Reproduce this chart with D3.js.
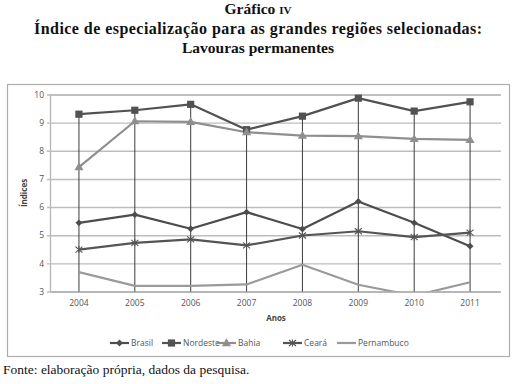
<!DOCTYPE html>
<html>
<head>
<meta charset="utf-8">
<script src="https://cdn.jsdelivr.net/npm/d3@7"></script>
<style>
  body { margin: 0; background: #fff; }
  svg { display: block; }
</style>
</head>
<body>
<div id="chart"></div>
<script>
// data
let years = ["2004", "2005", "2006", "2007", "2008", "2009", "2010", "2011"];
let brasil     = [5.44, 5.73, 5.23, 5.82, 5.22, 6.20, 5.44, 4.61];
let nordeste   = [9.30, 9.44, 9.65, 8.75, 9.23, 9.87, 9.41, 9.74];
let bahia      = [7.42, 9.05, 9.03, 8.66, 8.54, 8.52, 8.42, 8.39];
let ceara      = [4.49, 4.73, 4.85, 4.64, 4.99, 5.14, 4.93, 5.09];
let pernambuco = [3.69, 3.20, 3.20, 3.25, 3.95, 3.24, 2.85, 3.33];
let yTicks = [3, 4, 5, 6, 7, 8, 9, 10];

let series = [
    {name: "Brasil", values: brasil, color: "#4d4d4d", marker: "diamond"},
    {name: "Nordeste", values: nordeste, color: "#525252", marker: "square"},
    {name: "Bahia", values: bahia, color: "#8f8f8f", marker: "triangle"},
    {name: "Ceará", values: ceara, color: "#555555", marker: "star"},
    {name: "Pernambuco", values: pernambuco, color: "#9a9a9a", marker: "none"}
];

let svg = d3.select("#chart")
    .append("svg")
    .attr("width", 516)
    .attr("height", 384);

// titles
let serif = "'Liberation Serif', 'DejaVu Serif', serif";
let t1 = svg.append("text")
    .attr("x", 258).attr("y", 14)
    .attr("text-anchor", "middle")
    .style("font-family", serif).style("font-weight", "bold").style("font-size", "15.5px")
    .attr("fill", "#111");
t1.append("tspan").text("Gráfico ");
t1.append("tspan").text("IV").style("font-size", "11px");

svg.append("text")
    .attr("x", 258).attr("y", 34)
    .attr("text-anchor", "middle")
    .attr("textLength", 448)
    .attr("lengthAdjust", "spacing")
    .style("font-family", serif).style("font-weight", "bold").style("font-size", "16px")
    .attr("fill", "#111")
    .text("Índice de especialização para as grandes regiões selecionadas:");

svg.append("text")
    .attr("x", 258).attr("y", 53)
    .attr("text-anchor", "middle")
    .style("font-family", serif).style("font-weight", "bold").style("font-size", "15.5px")
    .attr("fill", "#111")
    .text("Lavouras permanentes");

svg.append("text")
    .attr("x", 3).attr("y", 374)
    .style("font-family", serif).style("font-size", "13.5px")
    .attr("fill", "#111")
    .text("Fonte: elaboração própria, dados da pesquisa.");

// chart frame
svg.append("rect")
    .attr("x", 7.5).attr("y", 84.5)
    .attr("width", 502).attr("height", 272)
    .attr("fill", "#fff")
    .attr("stroke", "#adadad")
    .attr("stroke-width", 1.2);

let sans = "'Open Sans', 'Liberation Sans', sans-serif";

let xScale = d3.scaleBand()
    .domain(years)
    .range([51, 498]);

let yScale = d3.scaleLinear()
    .domain([3, 10])
    .range([291.5, 94.5]);

let plot = svg.append("g");

// gridlines + y axis
let yAxis = d3.axisLeft(yScale)
    .tickValues(yTicks)
    .tickSize(-(498 - 47))
    .tickPadding(6)
    .tickFormat(d3.format("d"));

plot.append("g")
    .attr("transform", "translate(50,0)")
    .call(yAxis)
    .call(g => g.select(".domain").attr("stroke", "#b5b5b5").attr("stroke-width", 1.3))
    .call(g => g.selectAll(".tick line")
        .attr("x1", -3)
        .attr("stroke", "#bdbdbd").attr("stroke-width", 1.4))
    .call(g => g.selectAll(".tick text")
        .style("font-family", sans).style("font-size", "8.5px").attr("fill", "#555"));

// x axis
let xAxis = d3.axisBottom(xScale)
    .tickSize(0)
    .tickPadding(8);

plot.append("g")
    .attr("transform", "translate(0,291.5)")
    .call(xAxis)
    .call(g => g.select(".domain").attr("stroke", "#b5b5b5").attr("stroke-width", 1.3))
    .call(g => g.selectAll(".tick text")
        .style("font-family", sans).style("font-size", "8.5px").attr("fill", "#555"));

svg.append("text")
    .attr("x", 276).attr("y", 321)
    .attr("text-anchor", "middle")
    .style("font-family", sans).style("font-weight", "bold").style("font-size", "8px")
    .attr("fill", "#444")
    .text("Anos");

svg.append("text")
    .attr("transform", "translate(27,193) rotate(-90)")
    .attr("text-anchor", "middle")
    .style("font-family", sans).style("font-weight", "bold").style("font-size", "8px")
    .attr("fill", "#444")
    .text("Índices");

// clip to plot area (Pernambuco dips below 3 in 2010)
svg.append("clipPath").attr("id", "plotclip")
    .append("rect")
    .attr("x", 50).attr("y", 85)
    .attr("width", 450).attr("height", 291.5 - 85);

let cx = d => xScale(d) + xScale.bandwidth() / 2;

// drop lines from the highest point to the axis
let maxes = years.map((y, i) => d3.max(series, s => s.values[i]));
plot.append("g")
    .selectAll("line")
    .data(years)
    .join("line")
    .attr("x1", d => cx(d))
    .attr("x2", d => cx(d))
    .attr("y1", (d, i) => yScale(maxes[i]))
    .attr("y2", yScale(3))
    .attr("stroke", "#3c3c3c")
    .attr("stroke-width", 1);

let line = d3.line()
    .x((d, i) => cx(years[i]))
    .y(d => yScale(d));

let lines = plot.append("g").attr("clip-path", "url(#plotclip)");

series.forEach(function(s) {
    lines.append("path")
        .datum(s.values)
        .attr("fill", "none")
        .attr("stroke", s.color)
        .attr("stroke-width", 2.2)
        .attr("stroke-linejoin", "round")
        .attr("d", line);
});

function drawMarker(g, type, x, y, color) {
    if (type == "diamond") {
        g.append("path")
            .attr("d", d3.symbol().type(d3.symbolDiamond2).size(30)())
            .attr("transform", "translate(" + x + "," + y + ")")
            .attr("fill", color);
    } else if (type == "square") {
        g.append("rect")
            .attr("x", x - 3.6).attr("y", y - 3.6)
            .attr("width", 7.2).attr("height", 7.2)
            .attr("fill", color);
    } else if (type == "triangle") {
        g.append("path")
            .attr("d", d3.symbol().type(d3.symbolTriangle).size(36)())
            .attr("transform", "translate(" + x + "," + (y + 0.5) + ")")
            .attr("fill", color);
    } else if (type == "star") {
        g.append("path")
            .attr("d", "M" + (x - 3.5) + "," + (y - 3) + "L" + (x + 3.5) + "," + (y + 3) +
                "M" + (x - 3.5) + "," + (y + 3) + "L" + (x + 3.5) + "," + (y - 3) +
                "M" + x + "," + (y - 3.5) + "L" + x + "," + (y + 3.5))
            .attr("stroke", color)
            .attr("stroke-width", 1.1)
            .attr("fill", "none");
    }
}

let markers = plot.append("g");
series.forEach(function(s) {
    s.values.forEach(function(v, i) {
        drawMarker(markers, s.marker, cx(years[i]), yScale(v), s.color);
    });
});

// legend
let legendX = [110, 162, 217, 283, 337];
let legend = svg.append("g");
series.forEach(function(s, i) {
    let lx = legendX[i];
    let ly = 343;
    legend.append("line")
        .attr("x1", lx).attr("x2", lx + 19)
        .attr("y1", ly).attr("y2", ly)
        .attr("stroke", s.color)
        .attr("stroke-width", 2.2);
    drawMarker(legend, s.marker, lx + 9.5, ly, s.color);
    legend.append("text")
        .attr("x", lx + 21).attr("y", ly + 3)
        .style("font-family", sans).style("font-size", "8.5px")
        .attr("fill", "#555")
        .text(s.name);
});
</script>
</body>
</html>
